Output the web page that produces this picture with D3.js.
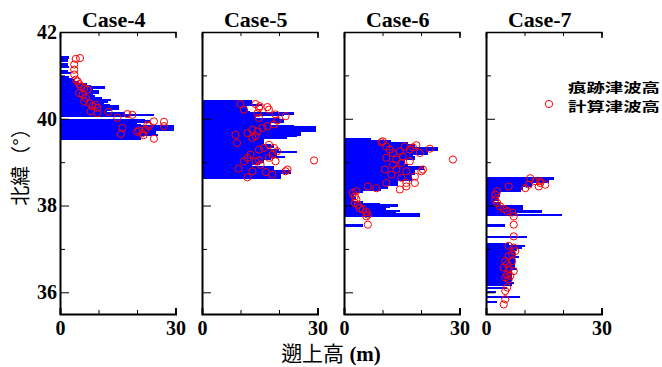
<!DOCTYPE html>
<html>
<head>
<meta charset="utf-8">
<script src="https://cdn.jsdelivr.net/npm/d3@7/dist/d3.min.js"></script>
<style>
  body { margin: 0; background: #fff; }
  .tick text { font-family: "Liberation Serif", "Times New Roman", serif; font-weight: bold; font-size: 20px; fill: #000; }
</style>
</head>
<body>
<svg id="chart" width="662" height="367"></svg>
<script>
// ---- data ----
const cases = ['Case-4', 'Case-5', 'Case-6', 'Case-7'];

// [latitude, height m] blue bars
const barsCase4 = [
  [41.41, 2.4], [41.34, 2.0], [41.25, 2.2], [41.19, 2.4], [41.10, 2.0], [41.05, 2.8], [40.97, 2.4],
  [40.92, 3.0], [40.88, 4.0], [40.84, 5.0], [40.80, 7.0], [40.76, 8.0], [40.72, 11.7], [40.68, 8.5],
  [40.64, 10.2], [40.60, 10.0], [40.56, 8.5], [40.52, 9.0], [40.48, 11.0], [40.44, 13.2], [40.40, 12.5],
  [40.36, 11.5], [40.32, 13.0], [40.28, 15.3], [40.24, 15.3], [40.20, 13.5], [40.16, 12.2], [40.12, 17.0],
  [40.09, 24.4], [40.06, 18.0], [39.97, 22.0], [39.94, 23.4], [39.90, 20.0], [39.86, 21.0], [39.82, 29.6],
  [39.78, 29.6], [39.74, 29.6], [39.70, 25.0], [39.66, 25.0], [39.62, 25.5], [39.58, 21.0], [39.54, 21.0]
];
const barsCase5 = [
  [40.40, 13.1], [40.36, 13.1], [40.32, 15.7], [40.28, 11.8], [40.24, 11.8], [40.20, 12.0], [40.16, 12.5],
  [40.12, 23.9], [40.08, 21.3], [40.04, 14.0], [40.00, 20.0], [39.96, 21.3], [39.92, 21.3], [39.88, 18.0],
  [39.84, 23.9], [39.80, 29.6], [39.76, 29.6], [39.72, 29.6], [39.68, 25.6], [39.64, 25.6], [39.60, 24.8],
  [39.56, 22.0], [39.52, 16.1], [39.48, 16.1], [39.44, 16.1], [39.40, 18.0], [39.36, 18.7], [39.32, 17.0],
  [39.28, 20.0], [39.24, 24.8], [39.20, 19.6], [39.16, 19.6], [39.12, 21.5], [39.08, 18.0], [39.04, 16.1],
  [39.00, 16.1], [38.96, 15.0], [38.92, 13.0], [38.88, 18.7], [38.84, 18.7], [38.80, 23.1], [38.76, 23.1],
  [38.72, 20.5], [38.68, 20.5], [38.64, 20.5]
];
const barsCase6 = [
  [39.52, 7.1], [39.48, 12.3], [39.44, 16.6], [39.40, 18.4], [39.36, 18.4], [39.32, 24.4], [39.28, 24.4],
  [39.24, 21.8], [39.20, 21.8], [39.16, 18.0], [39.12, 18.4], [39.08, 18.4], [39.04, 15.8], [39.00, 15.8],
  [38.96, 15.8], [38.92, 16.5], [38.88, 20.9], [38.84, 20.9], [38.80, 18.4], [38.76, 18.4], [38.72, 18.4],
  [38.68, 17.6], [38.64, 17.6], [38.60, 17.6], [38.56, 14.0], [38.52, 14.0], [38.48, 14.0], [38.44, 11.4],
  [38.40, 11.4], [38.36, 9.7], [38.32, 5.0], [38.28, 3.0], [38.24, 2.5], [38.20, 2.5], [38.16, 3.0],
  [38.12, 2.5], [38.08, 5.0], [38.04, 9.4], [38.00, 14.0], [37.96, 12.0], [37.92, 11.0], [37.88, 14.6],
  [37.84, 13.6], [37.80, 19.8], [37.76, 19.8], [37.54, 4.9]
];
const barsCase7 = [
  [38.62, 17.6], [38.58, 16.3], [38.54, 16.3], [38.50, 12.0], [38.46, 12.0], [38.42, 9.6], [38.38, 9.6],
  [38.34, 9.0], [38.30, 3.6], [38.26, 3.6], [38.22, 3.6], [38.18, 3.0], [38.14, 3.0], [38.10, 2.0],
  [38.06, 3.6], [38.02, 3.6], [37.98, 9.6], [37.94, 9.6], [37.90, 9.6], [37.86, 14.5], [37.82, 8.0],
  [37.78, 19.7], [37.54, 4.9], [37.28, 10.7], [37.10, 6.0], [37.06, 10.2], [37.02, 9.4], [36.98, 8.0],
  [36.94, 7.6], [36.90, 7.6], [36.86, 7.6], [36.82, 8.5], [36.78, 7.6], [36.74, 7.6], [36.70, 7.6],
  [36.66, 7.6], [36.62, 7.6], [36.58, 7.6], [36.54, 8.1], [36.50, 6.8], [36.46, 6.8], [36.42, 6.8],
  [36.38, 6.8], [36.34, 6.8], [36.30, 6.8], [36.26, 6.8], [36.22, 7.2], [36.18, 6.8], [36.10, 5.5],
  [36.00, 2.5], [35.89, 8.9], [35.78, 2.9]
];

// [height m, latitude] red circles
const calcCase4 = [
  [5.2, 41.40], [4.1, 41.38], [3.7, 41.25], [3.7, 41.13], [3.7, 41.02], [4.1, 40.90], [4.6, 40.86],
  [5.0, 40.80], [5.4, 40.75], [6.3, 40.71], [7.2, 40.67], [5.0, 40.59], [5.9, 40.56], [6.7, 40.48],
  [6.3, 40.40], [7.6, 40.36], [8.4, 40.29], [9.3, 40.32], [9.7, 40.25], [8.0, 40.17], [9.7, 40.13],
  [12.6, 40.16], [14.9, 40.02], [17.5, 40.11], [18.8, 40.09], [16.2, 39.79], [15.8, 39.65], [20.5, 39.73],
  [21.4, 39.67], [22.2, 39.75], [23.1, 39.83], [22.7, 39.86], [24.4, 39.94], [27.0, 39.93], [27.0, 39.83],
  [24.4, 39.54], [21.7, 39.62], [20.0, 39.70]
];
const calcCase5 = [
  [10.0, 40.34], [10.9, 40.21], [13.9, 40.34], [14.8, 40.25], [15.0, 40.29], [14.4, 40.13], [14.8, 40.02],
  [17.4, 40.21], [19.1, 40.10], [21.7, 40.06], [19.5, 39.96], [18.7, 39.87], [17.0, 39.83], [15.7, 39.79],
  [14.4, 39.71], [13.1, 39.75], [11.8, 39.67], [8.7, 39.63], [9.1, 39.44], [13.1, 39.56], [13.9, 39.60],
  [16.1, 39.33], [17.4, 39.40], [18.7, 39.33], [19.5, 39.25], [14.8, 39.29], [12.6, 39.17], [11.8, 39.10],
  [10.9, 39.02], [14.8, 39.04], [17.4, 39.10], [19.1, 39.02], [15.2, 38.94], [9.5, 38.85], [13.1, 38.79],
  [11.8, 38.65], [16.6, 38.77], [18.3, 38.71], [21.7, 38.79], [22.2, 38.83], [29.1, 39.04], [17.0, 40.27],
  [18.3, 39.17], [13.9, 39.02]
];
const calcCase6 = [
  [9.7, 39.46], [10.1, 39.48], [11.0, 39.36], [11.9, 39.29], [12.7, 39.21], [11.0, 39.10], [14.5, 39.25],
  [15.3, 39.13], [17.1, 39.29], [17.9, 39.34], [18.8, 39.39], [19.7, 39.21], [22.3, 39.31], [12.7, 38.94],
  [14.9, 38.98], [13.6, 39.06], [17.1, 39.02], [10.6, 38.83], [12.3, 38.71], [16.2, 38.79], [20.1, 38.79],
  [20.5, 38.83], [14.9, 38.64], [11.0, 38.52], [16.2, 38.52], [18.4, 38.67], [18.4, 38.52], [16.2, 38.44],
  [14.5, 38.37], [8.4, 38.40], [6.2, 38.44], [28.3, 39.06], [3.2, 38.33], [2.3, 38.29], [2.8, 38.21],
  [3.2, 38.14], [2.8, 38.06], [3.6, 38.02], [4.1, 37.94], [4.9, 37.91], [5.8, 37.85], [6.2, 37.79],
  [5.8, 37.75], [6.2, 37.56], [15.8, 39.36], [13.6, 38.83]
];
const calcCase7 = [
  [11.5, 38.63], [12.8, 38.56], [14.1, 38.52], [15.4, 38.48], [11.1, 38.48], [10.2, 38.40], [13.7, 38.44],
  [5.9, 38.44], [2.9, 38.33], [2.4, 38.25], [2.4, 38.14], [2.9, 38.06], [3.7, 37.98], [4.6, 37.92],
  [5.5, 37.87], [6.8, 37.84], [7.2, 37.75], [7.2, 37.56], [7.2, 37.29], [14.0, 38.56], [5.9, 37.07],
  [7.2, 37.03], [7.6, 36.95], [6.8, 36.88], [5.9, 36.84], [5.0, 36.72], [5.5, 36.65], [4.6, 36.57],
  [5.9, 36.53], [5.5, 36.41], [6.3, 36.38], [5.0, 36.34], [5.9, 36.30], [5.5, 36.11], [5.0, 36.03],
  [5.0, 35.84], [4.6, 35.72], [6.8, 36.72], [7.2, 36.49]
];

const barSets = [barsCase4, barsCase5, barsCase6, barsCase7];
const calcSets = [calcCase4, calcCase5, calcCase6, calcCase7];

const latMajorTicks = [36, 38, 40, 42];
const latMinorTicks = [37, 39, 41];
const heightTicks = [0, 10, 20, 30];
const heightLabels = [0, 30];
const legendLabels = ['痕跡津波高', '計算津波高'];
const yTitle = '北緯（°）';
const xTitle = '遡上高';
const xUnit = ' (m)';

const serifFont = '"Liberation Serif", "Times New Roman", serif';
const cjkFont = '"Noto Sans CJK JP", sans-serif';

// ---- layout ----
const svg = d3.select('#chart');
const panelLeft = 60, panelStep = 142, panelWidth = 115.5;
const plotTop = 32, plotBottom = 314;
const barStep = 0.04;

const y = d3.scaleLinear().domain([35.5, 42]).range([plotBottom, plotTop]);
const x = d3.scaleLinear().domain([0, 30]).range([0, panelWidth]);
const barH = Math.abs(y(0) - y(barStep)) + 0.6;

cases.forEach((name, i) => {
  const g = svg.append('g').attr('transform', `translate(${panelLeft + i * panelStep},0)`);

  // bars
  g.append('g').attr('shape-rendering', 'crispEdges').selectAll('rect')
    .data(barSets[i])
    .join('rect')
    .attr('x', 0)
    .attr('y', d => y(d[0]) - barH / 2)
    .attr('width', d => x(d[1]))
    .attr('height', barH)
    .attr('fill', '#0000ff');

  // axes
  const left = g.append('g')
    .call(d3.axisLeft(y).tickValues(latMajorTicks).tickSizeInner(-9).tickSizeOuter(0).tickPadding(3)
      .tickFormat(i === 0 ? d3.format('d') : () => ''));
  left.select('.domain').attr('stroke-width', 2);

  g.append('g')
    .call(d3.axisLeft(y).tickValues(latMinorTicks).tickSizeInner(-5).tickSizeOuter(0).tickFormat(() => ''))
    .select('.domain').remove();

  const bot = g.append('g').attr('transform', `translate(0,${plotBottom})`)
    .call(d3.axisBottom(x).tickValues(heightTicks).tickSizeInner(-4).tickSizeOuter(-6).tickPadding(7)
      .tickFormat(d => heightLabels.includes(d) ? d : ''));
  bot.select('.domain').attr('stroke-width', 2);

  const tp = g.append('g').attr('transform', `translate(0,${plotTop})`)
    .call(d3.axisTop(x).tickValues(heightTicks).tickSizeInner(-4).tickSizeOuter(-6).tickFormat(() => ''));
  tp.select('.domain').attr('stroke-width', 1.5);

  g.selectAll('.tick line').attr('stroke', '#000');

  // computed circles
  g.append('g').selectAll('circle')
    .data(calcSets[i])
    .join('circle')
    .attr('cx', d => x(d[0]))
    .attr('cy', d => y(d[1]))
    .attr('r', 3.6)
    .attr('fill', 'none')
    .attr('stroke', '#ff0000')
    .attr('stroke-width', 1);

  // title
  g.append('text')
    .attr('x', panelWidth / 2 - 4)
    .attr('y', 27)
    .attr('text-anchor', 'middle')
    .style('font-family', serifFont)
    .style('font-weight', 'bold')
    .style('font-size', '22px')
    .text(name);
});

// y title
svg.append('text')
  .attr('transform', 'translate(28,162) rotate(-90)')
  .attr('text-anchor', 'middle')
  .style('font-family', cjkFont)
  .style('font-size', '20px')
  .text(yTitle);

// x title
const xt = svg.append('text')
  .attr('x', 331)
  .attr('y', 361)
  .attr('text-anchor', 'middle')
  .style('font-size', '21px');
xt.append('tspan').style('font-family', cjkFont).text(xTitle);
xt.append('tspan').style('font-family', serifFont).style('font-weight', 'bold').text(xUnit);

// legend
const lg = svg.append('g');
lg.selectAll('text')
  .data(legendLabels)
  .join('text')
  .attr('x', 568)
  .attr('y', (d, k) => 91.5 + k * 19)
  .attr('textLength', 92)
  .attr('lengthAdjust', 'spacingAndGlyphs')
  .style('font-family', cjkFont)
  .style('font-weight', 'bold')
  .style('font-size', '13px')
  .text(d => d);
lg.append('circle')
  .attr('cx', 549).attr('cy', 104).attr('r', 3.6)
  .attr('fill', 'none').attr('stroke', '#ff0000').attr('stroke-width', 1);
</script>
</body>
</html>
